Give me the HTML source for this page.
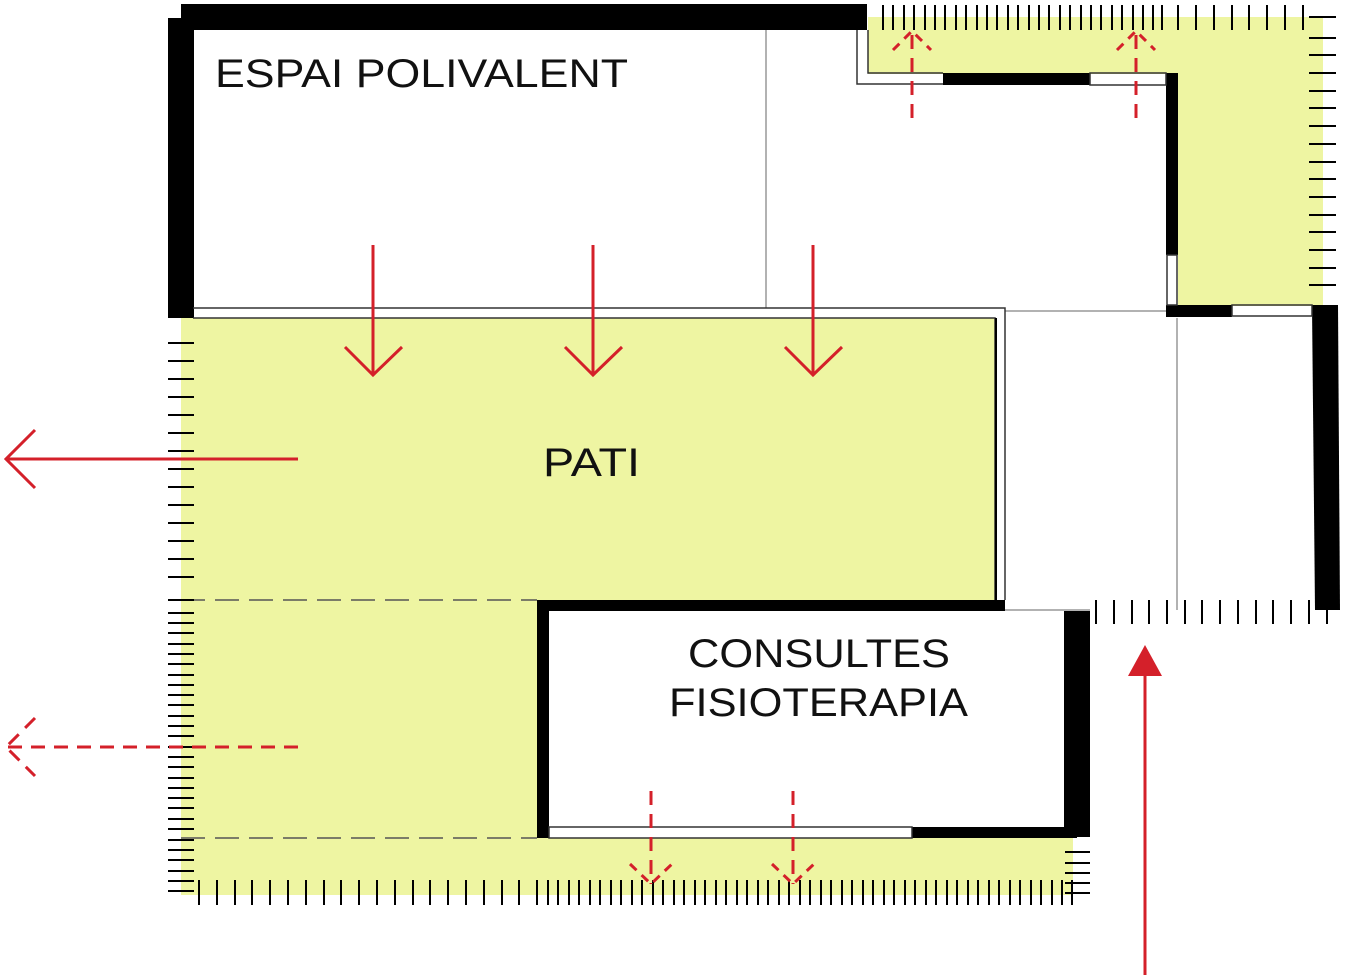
<!DOCTYPE html>
<html><head><meta charset="utf-8"><style>html,body{margin:0;padding:0;background:#fff}svg{display:block}</style></head><body>
<svg width="1345" height="980" viewBox="0 0 1345 980" xmlns="http://www.w3.org/2000/svg">
<g fill="#eef5a2">
<rect x="181" y="318" width="814" height="282"/>
<rect x="181" y="598" width="358" height="297"/>
<rect x="181" y="838" width="892" height="57"/>
<rect x="868" y="17" width="455" height="57"/>
<rect x="1178" y="17" width="145" height="289"/>
</g>
<g stroke="#999" stroke-width="1.5" fill="none">
<line x1="766" y1="30" x2="766" y2="308"/>
<line x1="1005" y1="311" x2="1167" y2="311"/>
<line x1="1177" y1="318" x2="1177" y2="610"/>
<line x1="1005" y1="610" x2="1090" y2="610"/>
</g>
<g stroke="#555" stroke-width="1.5" fill="none" stroke-dasharray="24,10">
<line x1="181" y1="600" x2="537" y2="600"/>
<line x1="181" y1="838" x2="537" y2="838"/>
</g>
<g fill="#000">
<rect x="181" y="4" width="686" height="26"/>
<rect x="168" y="18" width="26" height="300"/>
<rect x="943" y="73" width="147" height="12"/>
<rect x="1166" y="73" width="12" height="182"/>
<rect x="1166" y="305" width="66" height="12"/>
<polygon points="1312,305 1338,305 1340,610 1315,610"/>
<rect x="537" y="600" width="468" height="11"/>
<rect x="537" y="600" width="12" height="238"/>
<rect x="1064" y="611" width="26" height="226"/>
<rect x="912" y="827" width="165" height="11"/>
<rect x="1096" y="600" width="1" height="0"/>
</g>
<g stroke="#333" stroke-width="1.5" fill="none">
<polyline points="193,308 1005,308 1005,600"/>
<polyline points="193,318 995,318 995,600"/>
<polyline points="857,30 857,84 943,84"/>
<polyline points="868,30 868,73 943,73"/>
<rect x="1090" y="73" width="76" height="12"/>
<rect x="1167" y="255" width="10" height="50"/>
<rect x="1232" y="305" width="80" height="11"/>
<rect x="549" y="827" width="363" height="11"/>
</g>
<rect x="995" y="318" width="2" height="282" fill="#000"/>
<g stroke="#000" stroke-width="2" id="ticks">
<!-- left ticks sparse -->
<path d="M168 343h26M168 361h26M168 379h26M168 397h26M168 415h26M168 433h26M168 451h26M168 469h26M168 487h26M168 505h26M168 523h26M168 541h26M168 559h26M168 577h26"/>
<path d="M168 600h26M168 613h26M168 623h26M168 633h26M168 644h26M168 654h26M168 664h26M168 675h26M168 685h26M168 695h26M168 705h26M168 716h26M168 726h26M168 736h26M168 747h26M168 757h26M168 767h26M168 778h26M168 788h26M168 798h26M168 808h26M168 819h26M168 829h26M168 840h26M168 850h26M168 860h26M168 871h26M168 881h26M168 891h26"/>
<path d="M1065 852h25M1065 863h25M1065 873h25M1065 883h25M1065 893h25"/>
</g>
<g stroke="#000" stroke-width="2">
<path id="bt1" d="M199 880v25M217 880v25M235 880v25M252 880v25M270 880v25M288 880v25M306 880v25M324 880v25M341 880v25M359 880v25M377 880v25M395 880v25M413 880v25M430 880v25M448 880v25M466 880v25M484 880v25M502 880v25M519 880v25M537 880v25"/>
<path d="M548 880v25M558 880v25M569 880v25M579 880v25M590 880v25M600 880v25M611 880v25M621 880v25M632 880v25M642 880v25M653 880v25M663 880v25M674 880v25M684 880v25M695 880v25M705 880v25M716 880v25M726 880v25M737 880v25M747 880v25M758 880v25M768 880v25M779 880v25M789 880v25M800 880v25M810 880v25M821 880v25M831 880v25M842 880v25M852 880v25M863 880v25M873 880v25M884 880v25M894 880v25M905 880v25M915 880v25M926 880v25M936 880v25M947 880v25M957 880v25M968 880v25M978 880v25M989 880v25M999 880v25M1010 880v25M1020 880v25M1031 880v25M1041 880v25M1052 880v25M1062 880v25M1072 880v25"/>
<path d="M883 5v25M893 5v25M904 5v25M914 5v25M925 5v25M935 5v25M945 5v25M956 5v25M966 5v25M977 5v25M987 5v25M997 5v25M1008 5v25M1018 5v25M1029 5v25M1039 5v25M1049 5v25M1060 5v25M1070 5v25M1081 5v25M1091 5v25M1101 5v25M1112 5v25M1122 5v25M1133 5v25M1143 5v25M1153 5v25M1162 5v25M1178 5v25M1196 5v25M1214 5v25M1232 5v25M1249 5v25M1267 5v25M1285 5v25M1303 5v25"/>
<path d="M1309 17h27M1309 38h27M1309 55h27M1309 73h27M1309 91h27M1309 108h27M1309 126h27M1309 144h27M1309 162h27M1309 179h27M1309 197h27M1309 215h27M1309 232h27M1309 250h27M1309 268h27M1309 285h27"/>
<path d="M1096 600v24M1114 600v24M1132 600v24M1149 600v24M1167 600v24M1185 600v24M1202 600v24M1220 600v24M1238 600v24M1256 600v24M1273 600v24M1291 600v24M1309 600v24M1327 600v24"/>
</g>
<g stroke="#d4202a" stroke-width="3" fill="none">
<path d="M373 245V375M345 347L373 375L402 347"/>
<path d="M593 245V375M565 347L593 375L622 347"/>
<path d="M813 245V375M785 347L813 375L842 347"/>
<path d="M298 459H6M35 430L6 459L35 488"/>
<path d="M1145 975V670"/>
</g>
<polygon points="1145,645 1128,676 1162,676" fill="#d4202a"/>
<g stroke="#d4202a" stroke-width="3" fill="none" stroke-dasharray="14,9">
<path d="M298 747H6"/>
<path d="M35 718L6 747L35 776"/>
<path d="M912 118V32"/>
<path d="M1136 118V32"/>
<path d="M651 791V884"/>
<path d="M793 791V884"/>
</g>
<g stroke="#d4202a" stroke-width="3" fill="none" stroke-dasharray="9,7">
<path d="M893 50L912 31L931 50"/>
<path d="M1117 50L1136 31L1155 50"/>
<path d="M630 864L651 884L672 864"/>
<path d="M772 864L793 884L814 864"/>
</g>
<g font-family="Liberation Sans, sans-serif" font-size="40" fill="#111">
<text x="215" y="87" textLength="413" lengthAdjust="spacingAndGlyphs">ESPAI POLIVALENT</text>
<text x="543" y="476" textLength="97" lengthAdjust="spacingAndGlyphs">PATI</text>
<text x="688" y="667" textLength="262" lengthAdjust="spacingAndGlyphs">CONSULTES</text>
<text x="669" y="716" textLength="299" lengthAdjust="spacingAndGlyphs">FISIOTERAPIA</text>
</g>
</svg>
</body></html>
